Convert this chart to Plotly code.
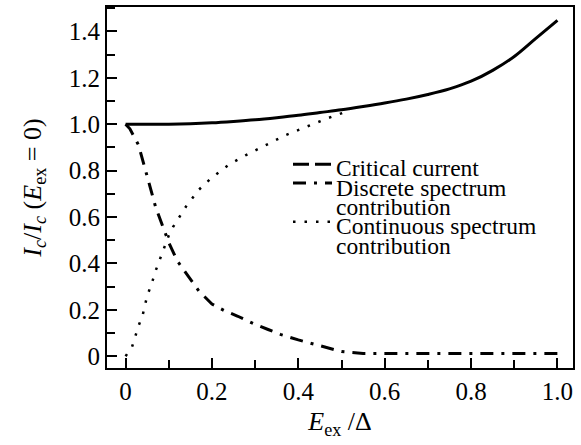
import plotly.graph_objects as go

# ---- data ----
crit_x = [0, 0.05, 0.1, 0.15, 0.2, 0.25, 0.3, 0.35, 0.4, 0.45, 0.5, 0.55, 0.6, 0.65, 0.7, 0.75, 0.8, 0.85, 0.9, 0.95, 1.0]
crit_y = [1.0, 1.0, 1.0, 1.002, 1.006, 1.012, 1.019, 1.028, 1.038, 1.05, 1.062, 1.076, 1.091, 1.108, 1.128, 1.152, 1.185, 1.232, 1.292, 1.37, 1.447]

disc_x = [0, 0.01, 0.03, 0.05, 0.07, 0.09, 0.10, 0.12, 0.15, 0.17, 0.2, 0.23, 0.26, 0.3, 0.33, 0.36, 0.4, 0.45, 0.5, 0.55, 0.6, 0.7, 0.8, 0.9, 1.0]
disc_y = [1.0, 0.98, 0.91, 0.78, 0.64, 0.54, 0.49, 0.41, 0.33, 0.28, 0.225, 0.195, 0.172, 0.137, 0.115, 0.093, 0.07, 0.045, 0.02, 0.012, 0.012, 0.012, 0.012, 0.012, 0.012]

cont_x = [0, 0.015, 0.03, 0.04, 0.05, 0.06, 0.07, 0.08, 0.09, 0.1, 0.11, 0.14, 0.17, 0.2, 0.24, 0.28, 0.33, 0.37, 0.42, 0.47, 0.52]
cont_y = [0, 0.04, 0.13, 0.18, 0.26, 0.31, 0.37, 0.425, 0.47, 0.52, 0.557, 0.645, 0.718, 0.77, 0.826, 0.868, 0.914, 0.952, 0.99, 1.027, 1.06]

x_tickvals = [0, 0.2, 0.4, 0.6, 0.8, 1.0]
x_ticktext = ["0", "0.2", "0.4", "0.6", "0.8", "1.0"]
y_tickvals = [0, 0.2, 0.4, 0.6, 0.8, 1.0, 1.2, 1.4]
y_ticktext = ["0", "0.2", "0.4", "0.6", "0.8", "1.0", "1.2", "1.4"]

legend_names = ["Critical current", "Discrete spectrum", "contribution", "Continuous spectrum", "contribution"]

FONT = "Liberation Serif, Times New Roman, Times, serif"
W, H = 581, 445
L, R, T, B = 107, 8, 5, 77

DASH_CRIT_LEG = "16px,6px"
DASH_DISC = "13px,8px,3px,8px"
DASH_CONT = "2.5px,9px"

fig = go.Figure()
fig.add_trace(go.Scatter(x=cont_x, y=cont_y, mode="lines",
                         line=dict(color="black", width=2.5, dash=DASH_CONT), showlegend=False))
fig.add_trace(go.Scatter(x=disc_x, y=disc_y, mode="lines",
                         line=dict(color="black", width=3, dash=DASH_DISC), showlegend=False))
fig.add_trace(go.Scatter(x=crit_x, y=crit_y, mode="lines", line_shape="spline",
                         line=dict(color="black", width=3), showlegend=False))

def px_x(p):
    return (p - L) / (W - L - R)

def px_y(p):
    return (H - B - p) / (H - T - B)

# legend (text as annotations, keys as short line shapes)
text_centers = [167, 186.5, 206, 225.5, 245]
for name, cy in zip(legend_names, text_centers):
    fig.add_annotation(x=px_x(334), y=px_y(cy), xref="paper", yref="paper",
                       text=name, showarrow=False, xanchor="left", yanchor="middle",
                       font=dict(family=FONT, size=23.5, color="black"))
key_rows = [(163, DASH_CRIT_LEG, 3), (182, DASH_DISC, 3), (221, DASH_CONT, 2.5)]
for ky, dash, w in key_rows:
    fig.add_shape(type="line", xref="paper", yref="paper",
                  x0=px_x(293), x1=px_x(332), y0=px_y(ky), y1=px_y(ky),
                  line=dict(color="black", width=w, dash=dash))

axis_common = dict(showgrid=False, zeroline=False, showline=True, linecolor="black",
                   linewidth=2, mirror=True, ticks="inside", ticklen=10, tickwidth=1.5,
                   tickcolor="black", tickfont=dict(family=FONT, size=25, color="black"))

fig.update_xaxes(range=[-0.043, 1.036], tickvals=x_tickvals, ticktext=x_ticktext,
                 minor=dict(dtick=0.1, ticks="inside", ticklen=8, tickwidth=1.5, tickcolor="black"),
                 title=dict(text="<i>E</i><sub>ex</sub> /Δ", font=dict(family=FONT, size=26, color="black"), standoff=8),
                 **axis_common)
fig.update_yaxes(range=[-0.051, 1.505], tickvals=y_tickvals, ticktext=y_ticktext,
                 minor=dict(dtick=0.1, ticks="inside", ticklen=8, tickwidth=1.5, tickcolor="black"),
                 title=dict(text="<i>I</i><sub><i>c</i></sub>/<i>I</i><sub><i>c</i></sub> (<i>E</i><sub>ex</sub> = 0)",
                            font=dict(family=FONT, size=26, color="black"), standoff=20),
                 **axis_common)

fig.update_layout(width=W, height=H, margin=dict(l=L, r=R, t=T, b=B),
                  paper_bgcolor="white", plot_bgcolor="white", showlegend=False)

fig.write_html("out.html")
